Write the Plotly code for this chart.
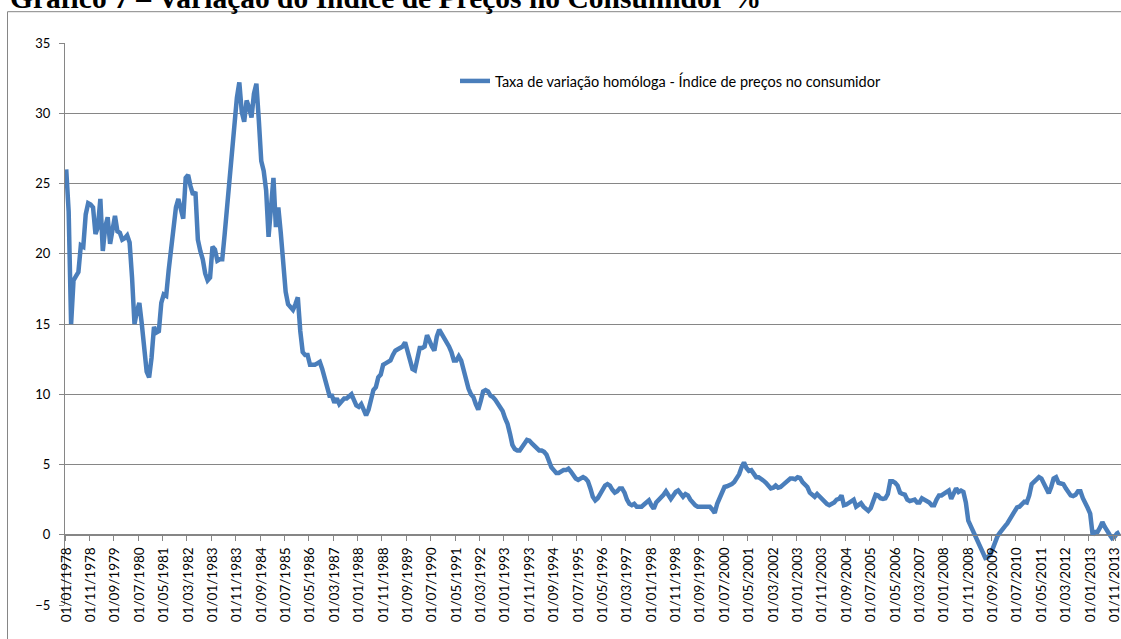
import plotly.graph_objects as go
import pandas as pd

# ---- data ----
title_text = "Gráfico 7 – Variação do Índice de Preços no Consumidor %"
series_name = "Taxa de variação homóloga - Índice de preços no consumidor"

inflation = (
    [26.0, 23.0, 15.0, 18.1, 18.4, 18.7, 20.6, 20.5, 22.8, 23.6, 23.5, 23.3]    # 1978
    + [21.4, 21.9, 23.9, 20.2, 21.9, 22.6, 20.7, 21.9, 22.7, 21.6, 21.5, 21.0]  # 1979
    + [21.1, 21.3, 20.8, 18.3, 15.0, 15.9, 16.5, 15.0, 12.8, 11.6, 11.2, 12.6]  # 1980
    + [14.8, 14.4, 14.5, 16.5, 17.1, 17.0, 18.8, 20.4, 22.4, 23.3, 23.9, 23.3]  # 1981
    + [22.5, 25.4, 25.6, 24.8, 24.2, 24.4, 21.0, 20.2, 19.6, 18.6, 18.1, 18.3]  # 1982
    + [20.5, 20.3, 19.5, 19.6, 19.6, 21.4, 23.4, 25.0, 27.1, 29.5, 31.1, 32.2]  # 1983
    + [30.1, 29.4, 30.9, 30.4, 29.7, 31.4, 32.1, 29.5, 26.6, 25.9, 24.5, 21.2]  # 1984
    + [23.5, 25.4, 21.9, 23.3, 21.5, 19.2, 17.3, 16.4, 16.2, 16.0, 16.4, 16.9]  # 1985
    + [14.5, 13.0, 12.8, 12.8, 12.1, 12.1, 12.1, 12.2, 12.3, 11.8, 11.2, 10.6]  # 1986
    + [9.9, 9.9, 9.4, 9.7, 9.3, 9.5, 9.7, 9.7, 9.9, 10.0, 9.6, 9.2]             # 1987
    + [9.1, 9.3, 8.9, 8.5, 8.9, 9.8, 10.3, 10.5, 11.2, 11.4, 12.1, 12.2]        # 1988
    + [12.3, 12.4, 12.8, 13.1, 13.2, 13.3, 13.4, 13.7, 13.0, 12.4, 11.8, 11.7]  # 1989
    + [12.5, 13.3, 13.3, 13.4, 14.2, 13.7, 13.4, 13.1, 14.1, 14.6, 14.3, 14.1]  # 1990
    + [13.7, 13.4, 13.0, 12.4, 12.4, 12.7, 12.4, 11.7, 10.9, 10.4, 10.0, 9.8]   # 1991
    + [9.3, 8.9, 9.5, 10.2, 10.3, 10.2, 9.9, 9.8, 9.6, 9.3, 9.1, 8.8]           # 1992
    + [8.3, 7.9, 7.2, 6.4, 6.1, 6.0, 6.0, 6.2, 6.5, 6.75, 6.7, 6.5]             # 1993
    + [6.3, 6.1, 6.0, 6.0, 5.9, 5.7, 5.2, 4.8, 4.6, 4.4, 4.4, 4.5]              # 1994
    + [4.6, 4.6, 4.7, 4.5, 4.2, 4.0, 3.9, 4.0, 4.1, 4.0, 3.8, 3.3]              # 1995
    + [2.7, 2.45, 2.6, 2.9, 3.3, 3.5, 3.6, 3.5, 3.2, 3.0, 3.1, 3.3]             # 1996
    + [3.3, 3.0, 2.5, 2.2, 2.1, 2.2, 2.0, 2.0, 2.0, 2.15, 2.3, 2.45]            # 1997
    + [2.1, 1.85, 2.3, 2.45, 2.6, 2.85, 3.1, 2.8, 2.55, 2.8, 3.05, 3.15]        # 1998
    + [2.9, 2.7, 2.9, 2.8, 2.5, 2.25, 2.1, 2.0, 2.0, 2.0, 2.0, 2.0]             # 1999
    + [2.0, 1.8, 1.55, 2.2, 2.65, 3.1, 3.4, 3.45, 3.5, 3.6, 3.75, 4.0]          # 2000
    + [4.3, 4.8, 5.15, 4.75, 4.55, 4.6, 4.3, 4.1, 4.1, 4.0, 3.85, 3.7]          # 2001
    + [3.5, 3.3, 3.35, 3.5, 3.35, 3.4, 3.55, 3.7, 3.85, 4.0, 4.0, 3.95]         # 2002
    + [4.1, 4.05, 3.75, 3.6, 3.4, 3.0, 2.8, 2.7, 2.9, 2.7, 2.5, 2.35]           # 2003
    + [2.2, 2.1, 2.2, 2.3, 2.5, 2.55, 2.8, 2.1, 2.15, 2.3, 2.45, 2.5]           # 2004
    + [2.0, 2.1, 2.25, 2.0, 1.85, 1.7, 1.9, 2.4, 2.85, 2.8, 2.6, 2.55]          # 2005
    + [2.6, 2.9, 3.8, 3.8, 3.7, 3.5, 3.0, 2.9, 2.85, 2.5, 2.4, 2.45]            # 2006
    + [2.5, 2.3, 2.3, 2.6, 2.5, 2.45, 2.3, 2.1, 2.1, 2.5, 2.8, 2.8]             # 2007
    + [2.9, 3.05, 3.15, 2.55, 3.0, 3.3, 3.05, 3.15, 3.05, 2.3, 1.0, 0.6]        # 2008
    + [0.2, -0.1, -0.5, -0.9, -1.3, -1.65, -1.6, -1.4, -1.0, -0.5, -0.1, 0.15]  # 2009
    + [0.45, 0.6, 0.8, 1.1, 1.35, 1.8, 1.95, 2.0, 2.15, 2.35, 2.3, 2.8]         # 2010
    + [3.6, 3.75, 4.0, 4.1, 4.0, 3.6, 3.3, 2.95, 3.4, 4.0, 4.1, 3.7]            # 2011
    + [3.65, 3.6, 3.3, 3.0, 2.8, 2.75, 2.85, 3.1, 3.1, 2.6, 2.15, 1.9]          # 2012
    + [1.5, 0.0, 0.2, 0.2, 0.5, 0.9, 0.55, 0.2, 0.0, -0.25, -0.15, 0.1]         # 2013
    + [0.2]                                                                    # 2014
)

# monthly categories 01/01/1978 ... (one per value)
months = pd.date_range("1978-01-01", periods=len(inflation), freq="MS").strftime("%d/%m/%Y").tolist()
tick_labels = months[::10]          # Excel shows every 10th category label
y_ticks = [-5, 0, 5, 10, 15, 20, 25, 30, 35]

# ---- styling ----
LINE_BLUE = "#4A7EBB"
GRID = "#868686"
FONT = "Lato"

W, H = 1121, 639
ML, MR, MT, MB = 65, 0, 43, 34
plot_w = W - ML - MR
plot_h = H - MT - MB


def px_x(px):
    return (px - ML) / plot_w


def px_y(py):
    return (H - MB - py) / plot_h


fig = go.Figure()
fig.add_trace(go.Scatter(
    x=months, y=inflation, mode="lines", name=series_name,
    line=dict(color=LINE_BLUE, width=4.5),
))

fig.update_layout(
    width=W, height=H,
    margin=dict(l=ML, r=MR, t=MT, b=MB, pad=0),
    paper_bgcolor="white", plot_bgcolor="white",
    showlegend=True,
    legend=dict(
        x=px_x(455), y=px_y(81), xanchor="left", yanchor="middle",
        font=dict(family=FONT, size=14.5, color="black"),
        bgcolor="rgba(0,0,0,0)", borderwidth=0,
    ),
    xaxis=dict(
        type="category",
        range=[-0.5, -0.5 + plot_w / 2.438],
        tickmode="array", tickvals=tick_labels, ticktext=tick_labels,
        tickson="boundaries",
        tickangle=-90,
        ticks="outside", ticklen=5, tickcolor=GRID, tickwidth=1,
        ticklabelstandoff=6,
        showgrid=False, zeroline=False,
        showline=True, linecolor=GRID, linewidth=1.3,
        anchor="free", position=5 / 40,
        tickfont=dict(family=FONT, size=13.5, color="black"),
        automargin=False,
    ),
    yaxis=dict(
        range=[-5, 35],
        tickmode="array", tickvals=y_ticks,
        ticks="outside", ticklen=5, tickcolor=GRID, tickwidth=1,
        ticklabelstandoff=6,
        showgrid=True, gridcolor=GRID, gridwidth=1.3,
        zeroline=False,
        showline=True, linecolor=GRID, linewidth=1.3,
        tickfont=dict(family=FONT, size=13, color="black"),
        automargin=False,
    ),
)

# chart-area frame (partly outside the picture, as in the reference)
fig.add_shape(type="rect", xref="paper", yref="paper",
              x0=px_x(7.5), y0=px_y(11.7), x1=1.05, y1=-0.2,
              line=dict(color=GRID, width=1), fillcolor="rgba(0,0,0,0)", layer="below")

# document caption, cut off at the top edge
fig.add_annotation(
    text="<b>" + title_text + "</b>", xref="paper", yref="paper",
    x=px_x(8), y=px_y(16), xanchor="left", yanchor="bottom",
    showarrow=False, font=dict(family="Liberation Serif", size=29.5, color="black"),
)

# remove the default 8px page margin so the figure starts at the window corner
fig.write_html(
    "out.html",
    config={"displayModeBar": False},
    post_script="document.body.style.margin='0px';",
)
